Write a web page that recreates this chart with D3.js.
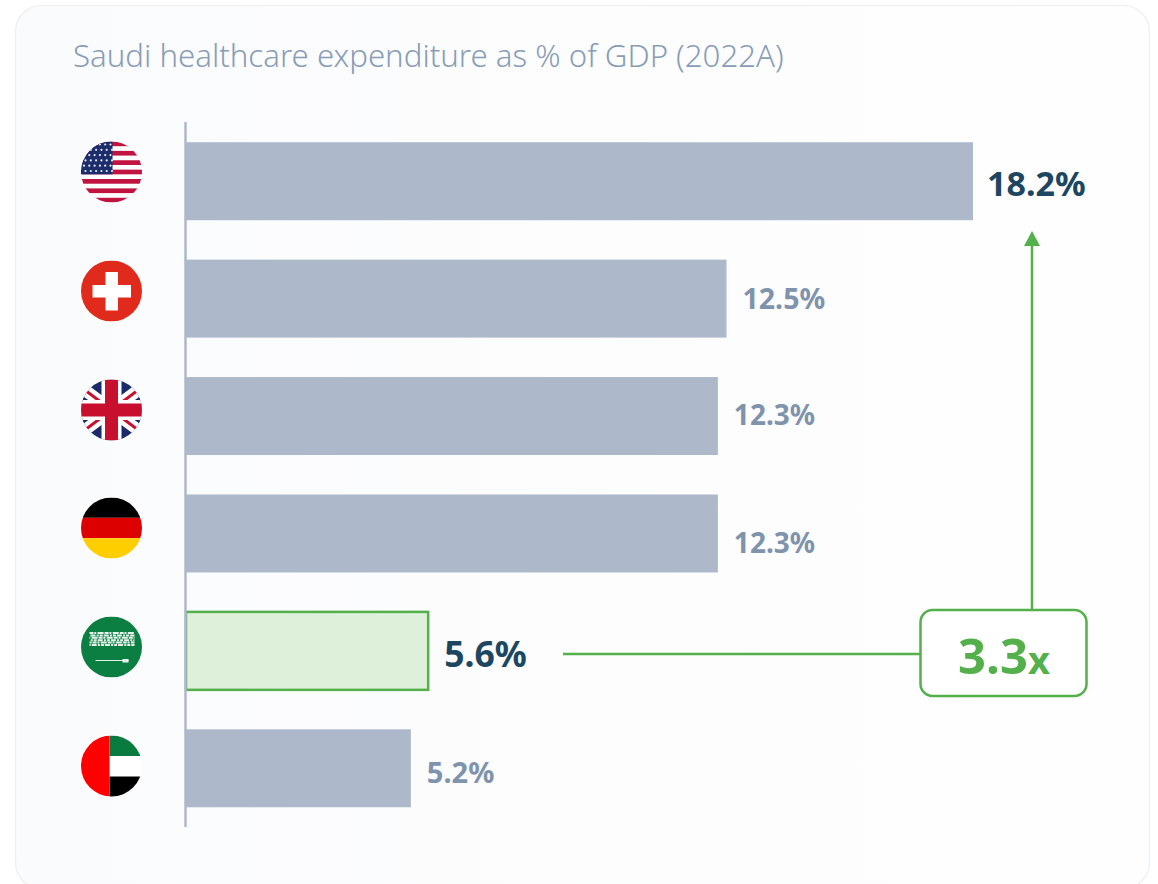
<!DOCTYPE html>
<html><head><meta charset="utf-8">
<script src="https://cdn.jsdelivr.net/npm/d3@7/dist/d3.min.js"></script>
<style>html,body{margin:0;padding:0;background:#fff}svg{display:block}text{font-family:"Noto Sans",sans-serif}</style>
</head><body><svg id="c" width="1158" height="884"></svg>
<script>
const countries=["United States","Switzerland","United Kingdom","Germany","Saudi Arabia","UAE"];
const values=[18.2,12.5,12.3,12.3,5.6,5.2];
const valueLabels=["18.2%","12.5%","12.3%","12.3%","5.6%","5.2%"];
const title="Saudi healthcare expenditure as % of GDP (2022A)";
const multiple="3.3";

const labelDy=[3,0,-1,9,3,4];
const labelStyle=[{s:34,c:"#1d4660",w:700},{s:28.5,c:"#7f93ad",w:700},{s:28,c:"#7f93ad",w:700},{s:28,c:"#7f93ad",w:700},{s:35.5,c:"#1d4660",w:700},{s:29,c:"#7f93ad",w:700}];
const flagY=[172,291,410,528,647,766];
const GREEN="#53b04a",BAR="#adb8ca";
const svg=d3.select("#c");
const defs=svg.append("defs");
const lg=defs.append("linearGradient").attr("id","card");
lg.append("stop").attr("offset",0).attr("stop-color","#fafbfc");
lg.append("stop").attr("offset",1).attr("stop-color","#fefefe");

svg.append("rect").attr("x",15.5).attr("y",5.5).attr("width",1134).attr("height",883).attr("rx",26)
  .attr("fill","url(#card)").attr("stroke","#eff1f5").attr("stroke-width",1.5);
svg.append("text").attr("x",73).attr("y",67).attr("font-size",31.2).attr("font-weight",300).attr("fill","#8a9db7").text(title);

const x=d3.scaleLinear().domain([0,18.2]).range([186,973]);
const y=d3.scaleBand().domain(countries).range([122.5,827]).paddingInner(0.336).paddingOuter(0.168);

svg.selectAll("rect.bar").data(countries).join("rect").attr("class","bar")
  .attr("x",x(0)).attr("y",d=>y(d)).attr("width",(d,i)=>x(values[i])-x(0)).attr("height",y.bandwidth())
  .attr("fill",(d,i)=>i===4?"#def0da":BAR)
  .attr("stroke",(d,i)=>i===4?GREEN:"none").attr("stroke-width",2.5);
svg.append("line").attr("x1",185.5).attr("x2",185.5).attr("y1",122).attr("y2",827).attr("stroke","#adb8ca").attr("stroke-width",2.5);

svg.selectAll("text.val").data(valueLabels).join("text").attr("class","val")
  .attr("x",(d,i)=>x(values[i])+(i===0?14:16)).attr("y",(d,i)=>y(countries[i])+y.bandwidth()/2+labelDy[i])
  .attr("dy","0.36em").attr("font-size",(d,i)=>labelStyle[i].s).attr("font-weight",(d,i)=>labelStyle[i].w)
  .attr("fill",(d,i)=>labelStyle[i].c).text(d=>d);

// flags
const R=30.5,CX=111.5;
function flag(i,draw){
  const id="clip"+i;
  defs.append("clipPath").attr("id",id).append("circle").attr("r",R);
  const g=svg.append("g").attr("transform",`translate(${CX},${flagY[i]})`).append("g").attr("clip-path",`url(#${id})`);
  draw(g);
}
const r=(g,a,b,w,h,f)=>g.append("rect").attr("x",a).attr("y",b).attr("width",w).attr("height",h).attr("fill",f);
flag(0,g=>{
  r(g,-R,-R,2*R,2*R,"#fff");
  d3.range(7).forEach(k=>r(g,-R,-R+k*9.38,2*R,4.7,"#c1133f"));
  r(g,-R,-R,31.5,32.8,"#1c2d6b");
  d3.range(6).forEach(a=>d3.range(6).forEach(b=>{
    g.append("circle").attr("cx",-R+3+a*5.3+(b%2)*1.5).attr("cy",-R+3+b*5.3).attr("r",1.1).attr("fill","#e6eaf2");
  }));
});
flag(1,g=>{r(g,-R,-R,2*R,2*R,"#df2a1c");r(g,-6,-19,12.5,38.5,"#fff");r(g,-19,-6,38.5,12.5,"#fff");});
flag(2,g=>{
  r(g,-R,-R,2*R,2*R,"#1b2a6b");
  g.append("path").attr("d","M-32,-24L32,24M-32,24L32,-24").attr("stroke","#fff").attr("stroke-width",12);
  g.append("path").attr("d","M-32,-24L32,24M-32,24L32,-24").attr("stroke","#c8102e").attr("stroke-width",3);
  r(g,-R,-10,2*R,20,"#fff");r(g,-10,-R,20,2*R,"#fff");
  r(g,-R,-6.5,2*R,13,"#c8102e");r(g,-6.5,-R,13,2*R,"#c8102e");
});
flag(3,g=>{r(g,-R,-R,2*R,20.3,"#000");r(g,-R,-10.2,2*R,20.4,"#dd0000");r(g,-R,10.2,2*R,20.3,"#ffce00");});
flag(4,g=>{
  r(g,-R,-R,2*R,2*R,"#0b7f42");
  d3.range(6).forEach(k=>g.append("line").attr("x1",-22).attr("x2",23).attr("y1",-14+k*2.4).attr("y2",-14+k*2.4)
    .attr("stroke","#e8f2ec").attr("stroke-width",2).attr("stroke-dasharray",k%2?"3 1 5 1.2 2 1":"4 0.8 2 1.3 6 1")
    .attr("stroke-dashoffset",k*3));
  g.append("path").attr("d","M-16,13.5H17").attr("stroke","#e6f1ea").attr("stroke-width",1.2);
  g.append("path").attr("d","M11,12H17V15.5H11Z").attr("fill","#e6f1ea");
});
flag(5,g=>{r(g,-R,-R,2*R,2*R,"#fff");r(g,-2,-R,33,20.5,"#0a7b3e");r(g,-2,10.5,33,20.5,"#000");r(g,-R,-R,28.5,2*R,"#ff0000");});

// comparison annotation
const ax=1032;
svg.append("path").attr("d",`M563,654H921`).attr("stroke",GREEN).attr("stroke-width",2.5).attr("fill","none");
svg.append("path").attr("d",`M${ax},610V244`).attr("stroke",GREEN).attr("stroke-width",2.5).attr("fill","none");
svg.append("path").attr("d",`M${ax},231L${ax+8},246H${ax-8}Z`).attr("fill",GREEN);
svg.append("rect").attr("x",920.5).attr("y",610).attr("width",166).attr("height",86).attr("rx",12).attr("fill","#fff").attr("stroke",GREEN).attr("stroke-width",2.5);
const t=svg.append("text").attr("x",1004).attr("y",674).attr("text-anchor","middle").attr("fill",GREEN).attr("font-weight",700);
t.append("tspan").attr("font-size",49).text(multiple);
t.append("tspan").attr("font-size",38).text("x");
</script></body></html>
